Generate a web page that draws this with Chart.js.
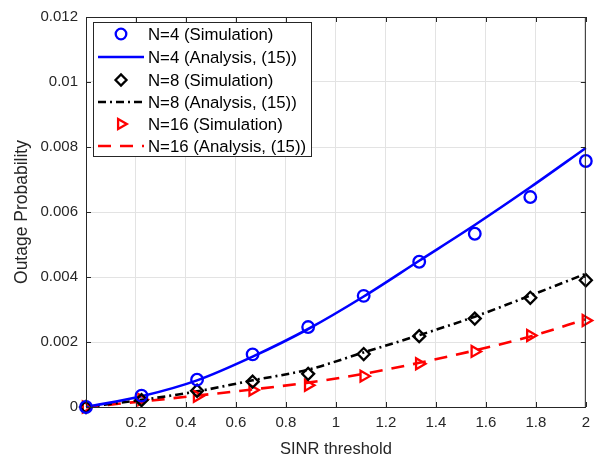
<!DOCTYPE html>
<html>
<head>
<meta charset="utf-8">
<script src="https://cdn.jsdelivr.net/npm/chart.js@4"></script>
<style>
html,body{margin:0;padding:0;background:#fff;}
#wrap{width:597px;height:459px;}
</style>
</head>
<body>
<div id="wrap"><canvas id="c" width="597" height="459"></canvas></div>
<script>
const sinrThreshold = [0, 0.2222, 0.4444, 0.6667, 0.8889, 1.1111, 1.3333, 1.5556, 1.7778, 2.0];
const n4Simulation = [0, 0.00035, 0.00084, 0.00162, 0.00246, 0.00342, 0.00447, 0.00533, 0.00646, 0.00757];
const n4Analysis   = [0, 0.00033, 0.00082, 0.00155, 0.00240, 0.00340, 0.00450, 0.00560, 0.00676, 0.00797];
const n8Simulation = [0, 0.00021, 0.00050, 0.00078, 0.00102, 0.00163, 0.00218, 0.00272, 0.00336, 0.00390];
const n8Analysis   = [0, 0.00022, 0.00048, 0.00082, 0.00115, 0.00168, 0.00221, 0.00278, 0.00343, 0.00410];
const n16Simulation = [0, 0.00023, 0.00033, 0.00052, 0.00067, 0.00095, 0.00133, 0.00171, 0.00220, 0.00266];
const n16Analysis   = [0, 0.00017, 0.00035, 0.00054, 0.00075, 0.00102, 0.00136, 0.00174, 0.00217, 0.00270];
const seriesNames = ['N=4 (Simulation)', 'N=4 (Analysis, (15))', 'N=8 (Simulation)', 'N=8 (Analysis, (15))', 'N=16 (Simulation)', 'N=16 (Analysis, (15))'];
const yTicks = [0, 0.002, 0.004, 0.006, 0.008, 0.01, 0.012];
const xTicks = [0.2, 0.4, 0.6, 0.8, 1, 1.2, 1.4, 1.6, 1.8, 2];

const pts = arr => arr.map((v, i) => ({x: sinrThreshold[i], y: v}));
const FONT = "'Liberation Sans', Arial, sans-serif";
const AX = '#262626';

const datasets = [
  {label: seriesNames[0], data: pts(n4Simulation), showLine: false, pointStyle: 'circle', pointRadius: 5.8, pointBorderWidth: 2.3, borderColor: '#0000ff', backgroundColor: 'rgba(0,0,0,0)', pointBackgroundColor: 'rgba(0,0,0,0)', pointBorderColor: '#0000ff', order: 1},
  {label: seriesNames[1], data: pts(n4Analysis), showLine: true, pointRadius: 0, borderColor: '#0000ff', borderWidth: 2.6, cubicInterpolationMode: 'monotone', order: 4},
  {label: seriesNames[2], data: pts(n8Simulation), showLine: false, pointStyle: 'rectRot', pointRadius: 6, pointBorderWidth: 2.3, borderColor: '#000', pointBackgroundColor: 'rgba(0,0,0,0)', pointBorderColor: '#000', order: 2},
  {label: seriesNames[3], data: pts(n8Analysis), showLine: true, pointRadius: 0, borderColor: '#000', borderWidth: 2.6, borderDash: [8, 4, 2, 4], cubicInterpolationMode: 'monotone', order: 5},
  {label: seriesNames[4], data: pts(n16Simulation), showLine: false, pointStyle: 'triangle', rotation: 90, pointRotation: 90, pointRadius: 6.3, pointBorderWidth: 2.3, borderColor: '#ff0000', pointBackgroundColor: 'rgba(0,0,0,0)', pointBorderColor: '#ff0000', order: 3},
  {label: seriesNames[5], data: pts(n16Analysis), showLine: true, pointRadius: 0, borderColor: '#ff0000', borderWidth: 2.6, borderDash: [13, 9], cubicInterpolationMode: 'monotone', order: 6}
];

const framePlugin = {
  id: 'frame',
  afterDraw(chart) {
    const {ctx, chartArea: a, scales} = chart;
    ctx.save();
    ctx.strokeStyle = AX;
    ctx.lineWidth = 1;
    ctx.strokeRect(a.left + 0.5, a.top + 0.5, a.right - a.left - 1, a.bottom - a.top);
    ctx.beginPath();
    [0].concat(xTicks).forEach(v => {
      const x = Math.round(scales.x.getPixelForValue(v)) + 0.5;
      ctx.moveTo(x, a.bottom); ctx.lineTo(x, a.bottom - 5);
      ctx.moveTo(x, a.top); ctx.lineTo(x, a.top + 5);
    });
    yTicks.forEach(v => {
      const y = Math.round(scales.y.getPixelForValue(v)) + 0.5;
      ctx.moveTo(a.left, y); ctx.lineTo(a.left + 5, y);
      ctx.moveTo(a.right, y); ctx.lineTo(a.right - 5, y);
    });
    ctx.stroke();

    // legend
    const lx = 93, ly = 22, lw = 218, lh = 134;
    ctx.fillStyle = '#fff';
    ctx.fillRect(lx, ly, lw, lh);
    ctx.strokeStyle = AX;
    ctx.lineWidth = 1;
    ctx.strokeRect(lx + 0.5, ly + 0.5, lw, lh);
    const rowsY = [34, 57, 80, 102, 124, 146];
    ctx.font = '16.8px ' + FONT;
    ctx.textBaseline = 'middle';
    ctx.textAlign = 'left';
    chart.data.datasets.forEach((ds, i) => {
      const y = rowsY[i];
      if (ds.showLine) {
        ctx.save();
        ctx.strokeStyle = ds.borderColor;
        ctx.lineWidth = ds.borderWidth;
        ctx.setLineDash(ds.borderDash || []);
        ctx.beginPath();
        ctx.moveTo(98, y); ctx.lineTo(144, y);
        ctx.stroke();
        ctx.restore();
      } else {
        ctx.save();
        ctx.lineWidth = ds.pointBorderWidth;
        ctx.strokeStyle = ds.pointBorderColor;
        ctx.fillStyle = 'rgba(0,0,0,0)';
        Chart.helpers.drawPoint(ctx, {pointStyle: ds.pointStyle, rotation: ds.pointRotation || 0, radius: ds.pointRadius - 0.5, borderWidth: ds.pointBorderWidth}, 121, y);
        ctx.restore();
      }
      ctx.fillStyle = '#000';
      ctx.fillText(ds.label, 148, y + 1);
    });
    ctx.restore();
  }
};

new Chart(document.getElementById('c'), {
  type: 'scatter',
  data: {datasets},
  options: {
    responsive: false,
    animation: false,
    clip: false,
    layout: {padding: {left: 0, right: 11, top: 15, bottom: 0}},
    plugins: {legend: {display: false}, tooltip: {enabled: false}},
    elements: {line: {fill: false}},
    scales: {
      x: {
        type: 'linear', min: 0, max: 2,
        afterBuildTicks: s => { s.ticks = [0].concat(xTicks).map(v => ({value: v})); },
        ticks: {
          color: AX, font: {family: FONT, size: 15}, padding: 7, maxRotation: 0,
          callback: v => v === 0 ? '' : String(Number(v.toFixed(1)))
        },
        grid: {color: '#e3e3e3', drawTicks: false},
        border: {display: false},
        title: {display: true, text: 'SINR threshold', color: AX, font: {family: FONT, size: 16.5}, padding: {top: 2, bottom: 0}},
        afterFit: s => { s.height = 52; }
      },
      y: {
        type: 'linear', min: 0, max: 0.012,
        afterBuildTicks: s => { s.ticks = yTicks.map(v => ({value: v})); },
        ticks: {
          color: AX, font: {family: FONT, size: 15}, padding: 8,
          callback: v => String(Number(v.toFixed(3)))
        },
        grid: {color: '#e3e3e3', drawTicks: false},
        border: {display: false},
        title: {display: true, text: 'Outage Probability', color: AX, font: {family: FONT, size: 17.5}, padding: {top: 12, bottom: 0}},
        afterFit: s => { s.width = 86; }
      }
    }
  },
  plugins: [framePlugin]
});
</script>
</body>
</html>
